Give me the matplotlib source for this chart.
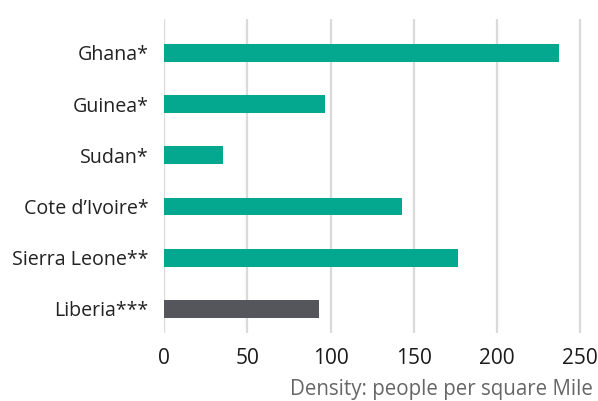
import matplotlib
matplotlib.use("Agg")
import matplotlib.pyplot as plt

categories = ["Ghana*", "Guinea*", "Sudan*", "Cote d\u2019Ivoire*", "Sierra Leone**", "Liberia***"]
values = [237.5, 96.6, 35.5, 143.1, 176.4, 92.8]
colors = ["#03A88F", "#03A88F", "#03A88F", "#03A88F", "#03A88F", "#54565B"]
xticks = [0, 50, 100, 150, 200, 250]
xlabel = "Density: people per square Mile"

plt.rcParams['font.family'] = ['Open Sans', 'DejaVu Sans']

W, H = 598, 401
fig = plt.figure(figsize=(W / 100, H / 100), dpi=100)
left, right = 164.3, 584
top, bottom = 19, 333
ax = fig.add_axes([left / W, 1 - bottom / H, (right - left) / W, (bottom - top) / H])

y = list(range(len(categories)))
ax.barh(y, values, height=0.35, color=colors, zorder=3)
ax.set_yticks(y)
ax.set_yticklabels(categories, fontsize=14.1, color="#222222")
ax.set_ylim(5.47, -0.66)
ax.set_xlim(0, 250 * (right - left) / (580 - left))
ax.set_xticks(xticks)
ax.set_xticklabels([str(t) for t in xticks], fontsize=15, color="#1a1a1a")
ax.grid(axis="x", color="#DADADA", linewidth=1.6, zorder=0)
ax.tick_params(axis="both", length=0)
ax.tick_params(axis="y", pad=11.5)
ax.tick_params(axis="x", pad=11)
for s in ax.spines.values():
    s.set_visible(False)

fig.text(593 / W, 1 - 390 / H, xlabel, ha="right", va="center", fontsize=14.8, color="#666666")

fig.savefig("out.png", dpi=100)
